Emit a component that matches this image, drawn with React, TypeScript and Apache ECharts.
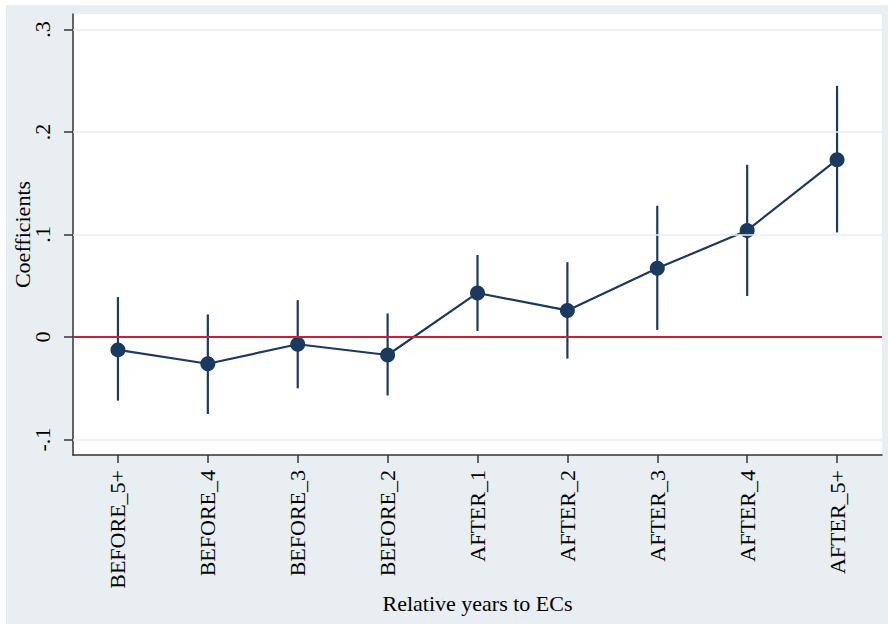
import React, { useEffect, useRef } from "react";
import * as echarts from "echarts";

const categories = ["BEFORE_5+", "BEFORE_4", "BEFORE_3", "BEFORE_2", "AFTER_1", "AFTER_2", "AFTER_3", "AFTER_4", "AFTER_5+"];
const coefficients = [-0.0125, -0.026, -0.007, -0.0175, 0.043, 0.026, 0.067, 0.104, 0.173];
const ciLow = [-0.062, -0.075, -0.050, -0.057, 0.006, -0.021, 0.007, 0.040, 0.102];
const ciHigh = [0.039, 0.022, 0.036, 0.023, 0.080, 0.073, 0.128, 0.168, 0.245];
const yTickValues = [-0.1, 0, 0.1, 0.2, 0.3];
const yTickLabels = ["-.1", "0", ".1", ".2", ".3"];

const NAVY = "#1b3a62";
const FONT = "Liberation Serif";

export default function App() {
  const ref = useRef<HTMLDivElement>(null);
  useEffect(() => {
    if (!ref.current) return;
    const chart = echarts.init(ref.current, undefined, { renderer: "svg" });
    const ciData = categories.map((_, i) => [i, ciLow[i], ciHigh[i]]);
    chart.setOption({
      animation: false,
      backgroundColor: "#e8eef1",
      grid: {
        left: 67, top: 9, width: 809, height: 441,
        show: true, backgroundColor: "#ffffff", borderWidth: 0,
        containLabel: false, outerBoundsMode: "none",
      },
      xAxis: {
        type: "category",
        data: categories,
        boundaryGap: true,
        axisLine: { show: true, onZero: false, lineStyle: { color: "#333333", width: 1.5 } },
        axisTick: { show: true, alignWithLabel: true, length: 8, lineStyle: { color: "#333333", width: 1.5 } },
        axisLabel: { interval: 0, rotate: 90, margin: 15, fontFamily: FONT, fontSize: 22, color: "#000000" },
        splitLine: { show: false },
        name: "Relative years to ECs",
        nameLocation: "middle",
        nameGap: 137,
        nameMoveOverlap: false,
        nameTextStyle: { fontFamily: FONT, fontSize: 22, color: "#000000" },
      },
      yAxis: {
        type: "value",
        min: -0.115,
        max: 0.315,
        axisLine: { show: true, onZero: false, lineStyle: { color: "#333333", width: 1.5 } },
        axisTick: { show: true, length: 9, customValues: yTickValues, lineStyle: { color: "#333333", width: 1.5 } },
        axisLabel: {
          customValues: yTickValues,
          rotate: 90,
          margin: 20,
          fontFamily: FONT,
          fontSize: 22,
          color: "#000000",
          formatter: (v: number) => {
            let best = 0;
            yTickValues.forEach((t, i) => {
              if (Math.abs(t - v) < Math.abs(yTickValues[best] - v)) best = i;
            });
            return yTickLabels[best];
          },
        },
        splitLine: { show: false },
        name: "Coefficients",
        nameLocation: "middle",
        nameRotate: 90,
        nameGap: 40,
        nameMoveOverlap: false,
        nameTextStyle: { fontFamily: FONT, fontSize: 22, color: "#000000" },
      },
      series: [
        {
          type: "line",
          data: [],
          silent: true,
          z: 1,
          markLine: {
            silent: true,
            symbol: "none",
            label: { show: false },
            lineStyle: { color: "#e6efef", width: 1.5, type: "solid" },
            data: yTickValues.map((v) => ({ yAxis: v })),
          },
        },
        {
          type: "line",
          data: [],
          silent: true,
          z: 2,
          markLine: {
            silent: true,
            symbol: "none",
            label: { show: false },
            lineStyle: { color: "#c8203a", width: 2, type: "solid" },
            data: [{ yAxis: 0 }],
          },
        },
        {
          type: "custom",
          z: 3,
          data: ciData,
          renderItem: (params: any, api: any) => {
            const x = api.value(0);
            const lo = api.coord([x, api.value(1)]);
            const hi = api.coord([x, api.value(2)]);
            return {
              type: "line",
              shape: { x1: lo[0], y1: lo[1], x2: hi[0], y2: hi[1] },
              style: { stroke: NAVY, lineWidth: 2.2 },
            };
          },
        },
        {
          type: "line",
          z: 4,
          data: coefficients,
          symbol: "circle",
          symbolSize: 15,
          itemStyle: { color: NAVY },
          lineStyle: { color: NAVY, width: 2.2 },
        },
      ],
    });
    return () => chart.dispose();
  }, []);
  return (
    <div style={{ position: "fixed", left: 0, top: 0, width: 888, height: 624, background: "#ffffff" }}>
      <div ref={ref} style={{ position: "absolute", left: 6, top: 5, width: 882, height: 619 }} />
    </div>
  );
}
